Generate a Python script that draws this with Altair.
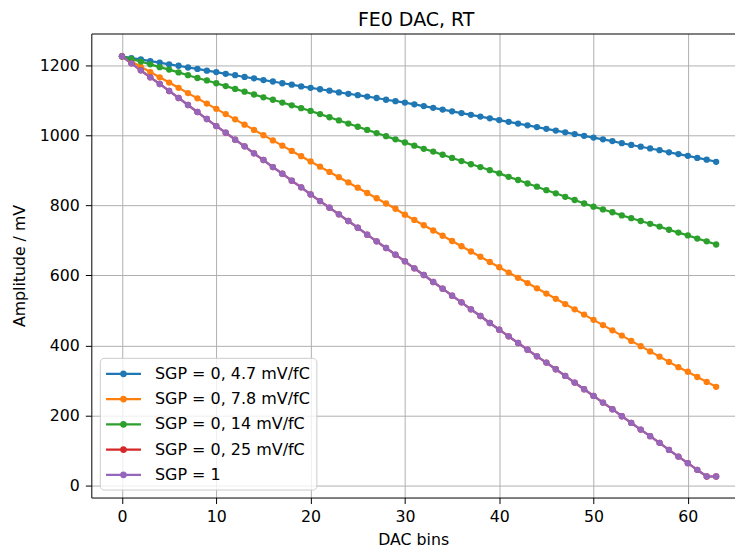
import altair as alt
import pandas as pd

dac = list(range(64))

series_names = [
    "SGP = 0, 4.7 mV/fC",
    "SGP = 0, 7.8 mV/fC",
    "SGP = 0, 14 mV/fC",
    "SGP = 0, 25 mV/fC",
    "SGP = 1",
]
series_colors = ["#1f77b4", "#ff7f0e", "#2ca02c", "#d62728", "#9467bd"]

amp_47 = [1225, 1220, 1216, 1211, 1207, 1202, 1198, 1193, 1189, 1184,
          1180, 1175, 1171, 1166, 1162, 1157, 1153, 1148, 1144, 1139,
          1135, 1131, 1127, 1122, 1118, 1114, 1110, 1106, 1101, 1097,
          1093, 1088, 1083, 1078, 1073, 1068, 1063, 1058, 1053, 1048,
          1043, 1038, 1033, 1028, 1023, 1018, 1013, 1008, 1003, 998,
          993, 988, 983, 977, 972, 967, 962, 957, 951, 946,
          941, 935, 930, 924]

amp_78 = [1225, 1210, 1195, 1180, 1165, 1150, 1135, 1120, 1105, 1090,
          1075, 1060, 1045, 1030, 1015, 1000, 985, 970, 955, 940,
          925, 910, 895, 880, 865, 850, 835, 820, 805, 790,
          773, 758, 743, 728, 713, 698, 683, 668, 653, 638,
          623, 608, 593, 578, 563, 548, 533, 518, 503, 488,
          473, 458, 443, 428, 413, 398, 383, 368, 353, 338,
          325, 310, 296, 282]

amp_14 = [1225, 1217, 1210, 1202, 1194, 1187, 1179, 1171, 1163, 1156,
          1148, 1140, 1132, 1124, 1116, 1108, 1101, 1093, 1085, 1077,
          1069, 1060, 1051, 1042, 1033, 1024, 1015, 1006, 997, 988,
          979, 970, 961, 953, 944, 935, 926, 917, 909, 900,
          891, 881, 872, 862, 853, 843, 834, 824, 815, 805,
          796, 788, 780, 771, 763, 755, 747, 739, 730, 722,
          714, 705, 697, 688]

amp_25 = [1225, 1205, 1185, 1165, 1146, 1126, 1106, 1086, 1066, 1046,
          1026, 1007, 987, 968, 948, 929, 909, 890, 870, 851,
          831, 812, 793, 774, 755, 736, 716, 697, 678, 659,
          640, 620, 601, 581, 562, 542, 523, 503, 484, 464,
          445, 426, 407, 388, 369, 351, 332, 313, 294, 275,
          256, 237, 218, 198, 179, 160, 141, 122, 102, 83,
          64, 45, 26, 26]

amp_sgp1 = [1225, 1205, 1185, 1165, 1146, 1126, 1106, 1086, 1066, 1046,
            1026, 1007, 987, 968, 948, 929, 909, 890, 870, 851,
            831, 812, 793, 774, 755, 736, 716, 697, 678, 659,
            640, 620, 601, 581, 562, 542, 523, 503, 484, 464,
            445, 426, 407, 388, 369, 351, 332, 313, 294, 275,
            256, 237, 218, 198, 179, 160, 141, 122, 102, 83,
            64, 45, 26, 26]

x_ticks = [0, 10, 20, 30, 40, 50, 60]
y_ticks = [0, 200, 400, 600, 800, 1000, 1200]

all_series = [amp_47, amp_78, amp_14, amp_25, amp_sgp1]
rows = []
for order, (name, vals) in enumerate(zip(series_names, all_series)):
    for d, v in zip(dac, vals):
        rows.append({"dac": d, "amp": v, "series": name, "order": order})
df = pd.DataFrame(rows)

FONT = "DejaVu Sans"

x_scale = alt.Scale(domain=[-3.25, 65.0], nice=False, zero=False)
y_scale = alt.Scale(domain=[-34, 1290], nice=False, zero=False)

x_bottom = alt.X("dac:Q", scale=x_scale,
                 axis=alt.Axis(values=x_ticks, title="DAC bins", format="d"))
x_top = alt.X("dac:Q", scale=x_scale,
              axis=alt.Axis(orient="top", labels=False, ticks=False,
                            grid=False, title=None, domainColor="black"))
y_enc = alt.Y("amp:Q", scale=y_scale,
              axis=alt.Axis(values=y_ticks, title="Amplitude / mV", format="d"))

legend_symbol = ("M-1.114,0L2.886,0"
                 "M1.146,0A0.26,0.26 0 1,1 0.626,0A0.26,0.26 0 1,1 1.146,0"
                 "M0.986,0A0.1,0.1 0 1,1 0.786,0A0.1,0.1 0 1,1 0.986,0")

color_enc = alt.Color(
    "series:N",
    scale=alt.Scale(domain=series_names, range=series_colors),
    sort=series_names,
    legend=alt.Legend(
        title=None,
        orient="none",
        legendX=8.5,
        legendY=325,
        symbolType=legend_symbol,
        symbolSize=306.25,
        symbolStrokeWidth=2.2,
        labelFontSize=16,
        labelFont=FONT,
        labelColor="black",
        fillColor="rgba(255,255,255,0.8)",
        strokeColor="#cccccc",
        cornerRadius=4,
        padding=6,
        rowPadding=7.3,
        labelOffset=29.2,
    ),
)

base = alt.Chart(df)
lines = base.mark_line(strokeWidth=2.2).encode(
    x=x_bottom, y=y_enc, color=color_enc, order="dac:Q"
)
points = base.mark_circle(size=40, opacity=1).encode(
    x=x_top, y=y_enc, color=color_enc
)

chart = alt.layer(lines, points).resolve_axis(x="independent").properties(
    width=645,
    height=465,
    title=alt.TitleParams("FE0 DAC, RT", fontSize=19, font=FONT,
                          fontWeight="normal", color="black", offset=4,
                          anchor="middle", dx=3),
    autosize=alt.AutoSizeParams(type="none"),
    padding={"left": 83.5, "top": 25, "right": 0, "bottom": 50},
).configure_view(
    stroke=None
).configure_axis(
    labelFont=FONT, titleFont=FONT, labelFontSize=15.8, titleFontSize=15.8,
    labelColor="black", titleColor="black", titleFontWeight="normal",
    domainColor="black", tickColor="black", tickSize=6, labelPadding=5,
    gridColor="#b0b0b0", gridWidth=1, gridOpacity=1,
).configure_axisY(
    titlePadding=12, labelPadding=6,
).configure_axisX(
    titlePadding=8, labelPadding=6,
)

chart.save("out.html", embed_options={"renderer": "svg", "actions": False})
